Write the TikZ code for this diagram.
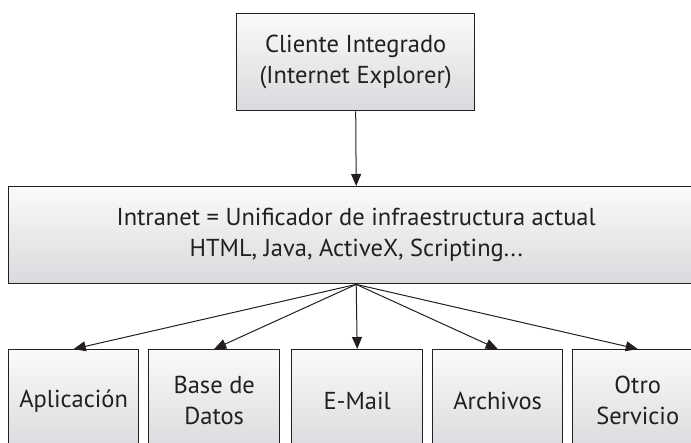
\documentclass[tikz,border=0pt]{standalone}
\usepackage{fontspec}
\setmainfont{PT Sans}
\usetikzlibrary{arrows.meta}
\definecolor{boxtop}{RGB}{250,250,250}
\definecolor{boxbot}{RGB}{217,218,221}
\definecolor{ink}{RGB}{35,31,32}
\tikzset{
  box/.style={draw=ink, line width=1.4pt, top color=boxtop, bottom color=boxbot,
    align=center, inner sep=0pt, anchor=north west, text=ink},
  conn/.style={draw=ink, line width=1pt, -{Triangle[length=12pt,width=10pt]}},
  bigtxt/.style={font=\fontsize{24.5}{31}\selectfont},
}
\begin{document}
\begin{tikzpicture}[x=1pt,y=-1pt]
\useasboundingbox (0,0) rectangle (691,443);
\clip (0,0) rectangle (691,443);
\node[box, bigtxt, minimum width=238pt, minimum height=97pt] (cli) at (236,13)
  {Cliente Integrado\\(Internet Explorer)};
\node[box, bigtxt, minimum width=695pt, minimum height=97pt] (int) at (8,186)
  {Intranet = Unificador de infraestructura actual\\HTML, Java, ActiveX, Scripting...};
\node[box, bigtxt, minimum width=130pt, minimum height=102pt] (apl) at (8,349) {Aplicación};
\node[box, bigtxt, minimum width=131pt, minimum height=102pt] (bdd) at (148,349) {Base de\\Datos};
\node[box, bigtxt, minimum width=131pt, minimum height=102pt] (mail) at (291,349) {E-Mail};
\node[box, bigtxt, minimum width=130pt, minimum height=102pt] (arc) at (432,349) {Archivos};
\node[box, bigtxt, minimum width=130pt, minimum height=102pt] (otro) at (572,349) {Otro\\Servicio};
\draw[conn] (cli.south) -- (int.north);
\foreach \b in {apl,bdd,mail,arc,otro}
  \draw[conn] (int.south) -- (\b.north);
\end{tikzpicture}
\end{document}
